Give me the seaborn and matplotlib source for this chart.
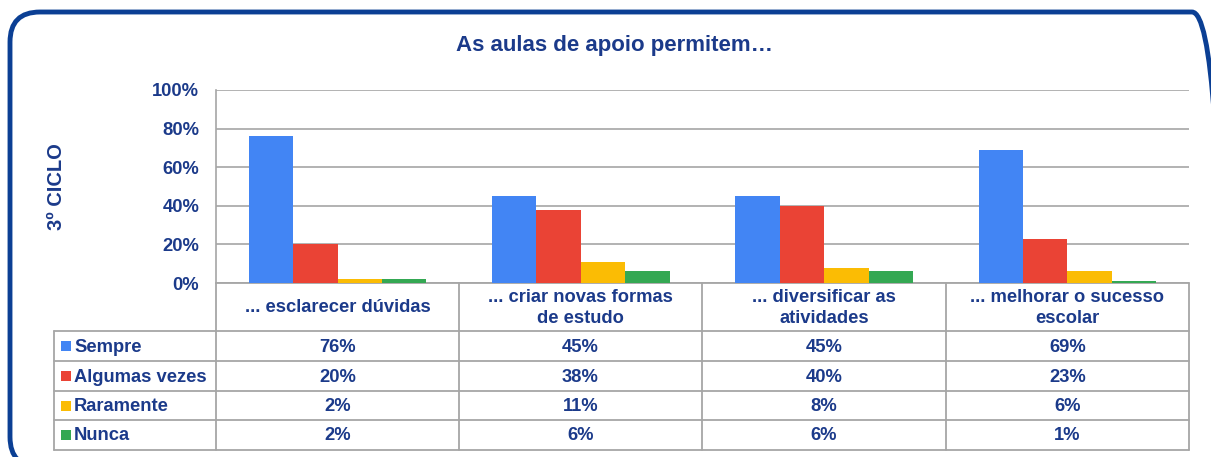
import pandas as pd
import matplotlib.pyplot as plt
import seaborn as sns
import matplotlib.ticker as ticker
from matplotlib.patches import FancyBboxPatch, Rectangle

# data
categories = ['... esclarecer dúvidas', '... criar novas formas\nde estudo',
              '... diversificar as\natividades', '... melhorar o sucesso\nescolar']
responses = ['Sempre', 'Algumas vezes', 'Raramente', 'Nunca']
sempre = [76, 45, 45, 69]
algumas = [20, 38, 40, 23]
raramente = [2, 11, 8, 6]
nunca = [2, 6, 6, 1]
colors = ['#4285F4', '#EA4335', '#FBBC04', '#34A853']

series = [sempre, algumas, raramente, nunca]
df = pd.DataFrame([(c, r, v) for r, vals in zip(responses, series)
                   for c, v in zip(categories, vals)],
                  columns=['cat', 'resp', 'val'])

sns.set_theme(style='white')
plt.rcParams['font.family'] = ['Liberation Sans', 'DejaVu Sans']
navy = '#1B3A8A'
grid_c = '#A6A6A6'
fs = 13.2

W, H = 1211, 457
fig = plt.figure(figsize=(W / 100, H / 100), dpi=100)

def fx(px):
    return px / W

def fy(py):
    return 1 - py / H

# rounded frame (pixel coords, y up)
fr = fig.add_axes([0, 0, 1, 1], facecolor='none', zorder=-2)
fr.set_xlim(0, W)
fr.set_ylim(0, H)
fr.axis('off')
frame = FancyBboxPatch((10, H - 467), 1212, 455,
                       boxstyle='round,pad=0,rounding_size=30',
                       facecolor='none', edgecolor='#0B3F94', linewidth=3.5,
                       clip_on=False)
fr.add_patch(frame)

# pixel-space table axes (y down)
tab = fig.add_axes([0, 0, 1, 1], facecolor='none', zorder=-1)
tab.set_xlim(0, W)
tab.set_ylim(H, 0)
tab.axis('off')

fig.text(fx(614), fy(45), 'As aulas de apoio permitem…', ha='center', va='center',
         fontsize=16, fontweight='bold', color=navy)
fig.text(fx(57), fy(187), '3º CICLO', ha='center', va='center', rotation=90,
         fontsize=14.5, fontweight='bold', color=navy)

# bar chart
L, R, T, B = 216, 1189, 90, 283
ax = fig.add_axes([fx(L), fy(B), fx(R) - fx(L), fy(T) - fy(B)])
ax.set_facecolor('none')
sns.barplot(data=df, x='cat', y='val', hue='resp', palette=colors, width=0.73,
            gap=0, ax=ax, legend=False, linewidth=0, saturation=1)
ax.set_xlim(-0.5, 3.5)
ax.set_ylim(0, 100)
ax.set_yticks(range(0, 101, 20))
ax.yaxis.set_major_formatter(ticker.FuncFormatter(lambda v, p: f'{int(v)}%'))
ax.tick_params(axis='y', labelsize=fs, labelcolor=navy, length=0, pad=12)
for lab in ax.get_yticklabels():
    lab.set_fontweight('bold')
ax.set_xticks([])
ax.set_xlabel('')
ax.set_ylabel('')
ax.grid(axis='y', color=grid_c, linewidth=1.2)
ax.set_axisbelow(True)
for s in ['top', 'right', 'bottom']:
    ax.spines[s].set_visible(False)
ax.spines['left'].set_color(grid_c)
ax.spines['left'].set_linewidth(1.2)

# data table
col_x = [216, 459, 702, 946, 1189]
row_y = [283, 331, 361, 391, 420, 450]
lw = 1.3
for y in row_y[1:]:
    tab.plot([54, 1189], [y, y], color=grid_c, lw=lw)
tab.plot([216, 1189], [row_y[0]] * 2, color=grid_c, lw=lw)
for x in col_x:
    tab.plot([x, x], [row_y[0], row_y[-1]], color=grid_c, lw=lw)
tab.plot([54, 54], [row_y[1], row_y[-1]], color=grid_c, lw=lw)

for i, c in enumerate(categories):
    cx = (col_x[i] + col_x[i + 1]) / 2
    tab.text(cx, (row_y[0] + row_y[1]) / 2 + 1, c, ha='center', va='center',
             fontsize=fs, fontweight='bold', color=navy, linespacing=1.35)

for j, (r, vals) in enumerate(zip(responses, series)):
    cy = (row_y[j + 1] + row_y[j + 2]) / 2
    tab.add_patch(Rectangle((61, cy - 5), 10, 10, facecolor=colors[j], edgecolor='none'))
    tab.text(74, cy + 1, r, ha='left', va='center', fontsize=fs,
             fontweight='bold', color=navy)
    for i, v in enumerate(vals):
        cx = (col_x[i] + col_x[i + 1]) / 2
        tab.text(cx, cy + 1, f'{v}%', ha='center', va='center', fontsize=fs,
                 fontweight='bold', color=navy)

plt.savefig('out.png', dpi=100)
